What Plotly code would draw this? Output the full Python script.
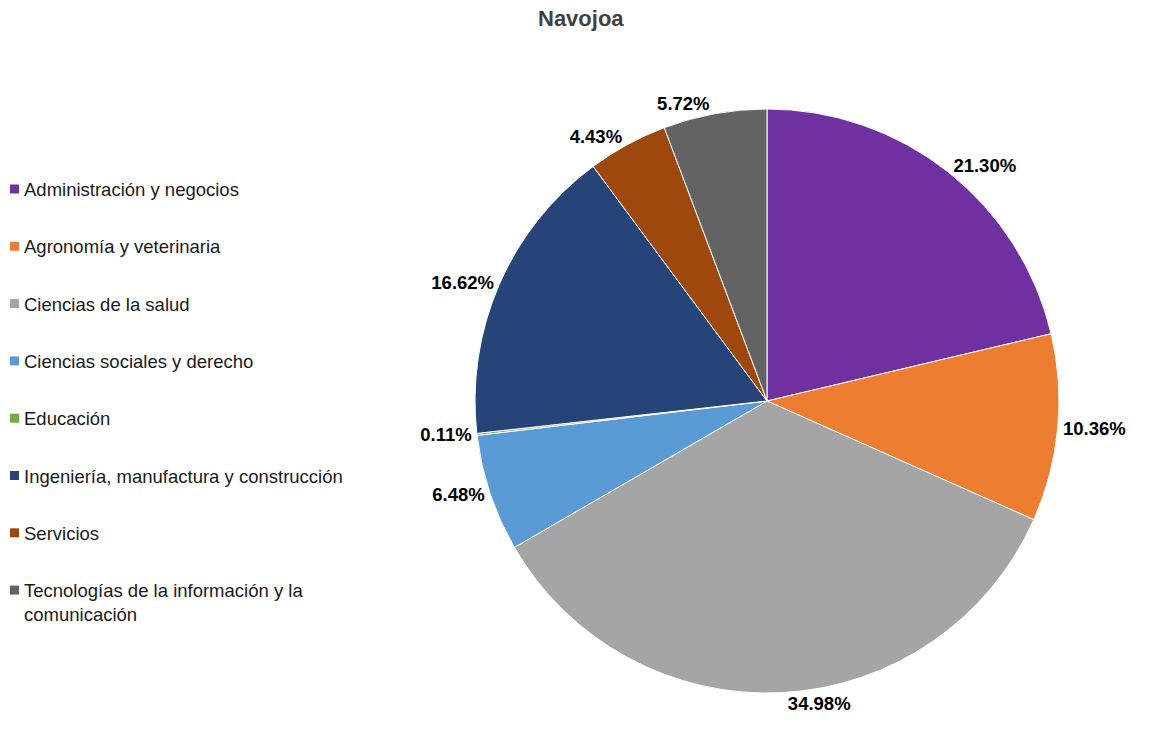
import plotly.graph_objects as go

title = "Navojoa"
categories = [
    "Administración y negocios",
    "Agronomía y veterinaria",
    "Ciencias de la salud",
    "Ciencias sociales y derecho",
    "Educación",
    "Ingeniería, manufactura y construcción",
    "Servicios",
    "Tecnologías de la información y la<br>comunicación",
]
values = [21.30, 10.36, 34.98, 6.48, 0.11, 16.62, 4.43, 5.72]
colors = ["#7030A0", "#ED7D31", "#A5A5A5", "#5B9BD5", "#70AD47", "#264478", "#9E480E", "#636363"]

W, H = 1151, 732
FONT = "Liberation Sans, Arial, sans-serif"


def px(x):
    return x / W


def py(y):
    return 1 - y / H


fig = go.Figure()
fig.add_trace(go.Pie(
    labels=categories,
    values=values,
    sort=False,
    direction="clockwise",
    rotation=0,
    marker=dict(colors=colors, line=dict(color="white", width=1)),
    texttemplate="%{value:.2f}%",
    textposition="outside",
    textfont=dict(family=FONT, size=18.5, color="black", weight="bold"),
    automargin=False,
    showlegend=False,
    hoverinfo="label+value",
    domain=dict(x=[px(767 - 292), px(767 + 292)],
                y=[py(401 + 292), py(401 - 292)]),
))

annotations = [dict(
    text="<b>" + title + "</b>", xref="paper", yref="paper", x=px(581), y=py(19),
    xanchor="center", yanchor="middle", showarrow=False,
    font=dict(family=FONT, size=22, color="#404040"),
)]
shapes = []
y0 = 189
step = 57.3
for i, (cat, col) in enumerate(zip(categories, colors)):
    yc = y0 + i * step
    annotations.append(dict(
        text=cat, xref="paper", yref="paper", x=px(22), y=py(yc - 12),
        xanchor="left", yanchor="top", align="left", showarrow=False,
        font=dict(family=FONT, size=18.5, color="#1a1a1a"),
    ))
    shapes.append(dict(
        type="rect", xref="paper", yref="paper",
        x0=px(10), x1=px(19), y0=py(yc + 4.5), y1=py(yc - 4.5),
        fillcolor=col, line=dict(width=0),
    ))

fig.update_layout(
    width=W, height=H,
    margin=dict(l=0, r=0, t=0, b=0),
    paper_bgcolor="white",
    annotations=annotations,
    shapes=shapes,
)

fig.write_html(
    "out.html",
    config={"displayModeBar": False},
    post_script="document.body.style.margin='0';document.documentElement.style.overflow='hidden';",
)
